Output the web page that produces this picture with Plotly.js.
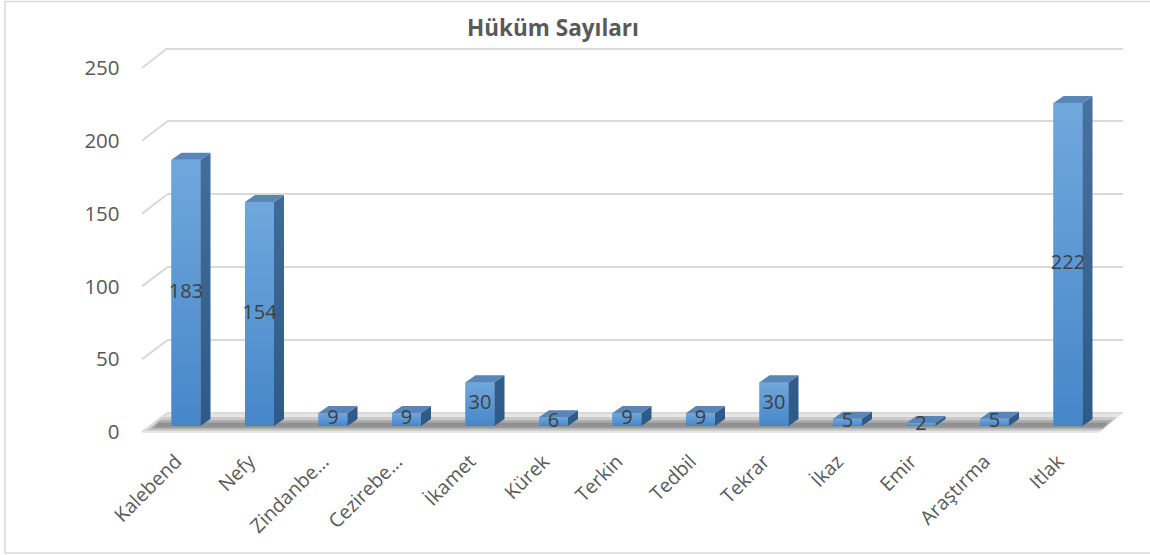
<!DOCTYPE html>
<html>
<head>
<meta charset="utf-8">
<script src="https://cdn.plot.ly/plotly-3.0.1.min.js"></script>
<style>
html,body{margin:0;padding:0;background:#fff;}
#chart{width:1150px;height:555px;}
</style>
</head>
<body>
<div id="chart"></div>
<script>
// ---- data ----
const categories = ["Kalebend","Nefy","Zindanbe…","Cezirebe…","İkamet","Kürek","Terkin","Tedbil","Tekrar","İkaz","Emir","Araştırma","Itlak"];
const values = [183,154,9,9,30,6,9,9,30,5,2,5,222];
const yTicks = [0,50,100,150,200,250];
const titleText = "Hüküm Sayıları";

// ---- geometry (pixels) ----
const W = 1150, H = 555;
const px = x => x / W;
const py = y => 1 - y / H;
const cat0 = 186, catStep = 73.5;         // bar subplot category scale
const base0 = 426, unitPx = 1.455;        // bar subplot value scale
const xR = [-0.7, 12.9], yR = [-5, 255];
const gridBottom = 413.3, gridTop = 48.5; // back wall gridlines (0 and 250)
const gridUnit = (gridBottom - gridTop) / 250;
const gR = [-1, 251];

const idx = categories.map((_, i) => i);
const hw = 0.1975, dX = 0.136, dY = 4.8;

// side & top faces of the 3D bars, derived from the values
const sideX = [], sideY = [], topX = [], topY = [];
values.forEach((v, i) => {
  sideX.push(i + hw, i + hw + dX, i + hw + dX, i + hw, i + hw, null);
  sideY.push(0, dY, v + dY, v, 0, null);
  topX.push(i - hw, i - hw + dX, i + hw + dX, i + hw, i - hw, null);
  topY.push(v, v + dY, v + dY, v, v, null);
});

const font = "'Open Sans', 'Noto Sans', sans-serif";

const traces = [
  { // invisible trace to create the back-wall grid subplot
    type: 'scatter', x: [0, 1], y: [0, 250], mode: 'markers',
    marker: {opacity: 0}, xaxis: 'x', yaxis: 'y', hoverinfo: 'skip', showlegend: false
  },
  {
    type: 'bar', x: idx, y: values, width: 2 * hw,
    marker: {color: '#5697d5', line: {width: 0}},
    xaxis: 'x2', yaxis: 'y2', hoverinfo: 'x+y', showlegend: false
  }
];
// gradient shading of each front face (same rectangle as the bar)
values.forEach((v, i) => {
  traces.push({
    type: 'scatter', x: [i - hw, i + hw, i + hw, i - hw, i - hw], y: [0, 0, v, v, 0],
    mode: 'lines', fill: 'toself', line: {width: 0, color: 'rgba(0,0,0,0)'},
    fillgradient: {type: 'vertical', start: 0, stop: Math.max(v, 1),
      colorscale: [[0, '#4686c9'], [1, '#70a8dd']]},
    xaxis: 'x2', yaxis: 'y2', hoverinfo: 'skip', showlegend: false
  });
});
traces.push({
  type: 'scatter', x: sideX, y: sideY, mode: 'lines', fill: 'toself',
  fillgradient: {type: 'vertical', start: 0, stop: 230,
    colorscale: [[0, '#2e5a88'], [1, '#48729f']]},
  line: {width: 0, color: 'rgba(0,0,0,0)'},
  xaxis: 'x2', yaxis: 'y2', hoverinfo: 'skip', showlegend: false
});
traces.push({
  type: 'scatter', x: topX, y: topY, mode: 'lines', fill: 'toself',
  fillcolor: '#5a86b7', line: {width: 0, color: 'rgba(0,0,0,0)'},
  xaxis: 'x2', yaxis: 'y2', hoverinfo: 'skip', showlegend: false
});
traces.push({
  type: 'scatter', x: idx, y: values.map(v => v / 2), mode: 'text',
  text: values.map(String), textposition: 'middle center',
  textfont: {family: font, size: 20, color: '#404040'},
  xaxis: 'x2', yaxis: 'y2', hoverinfo: 'skip', showlegend: false, cliponaxis: false
});

const shapes = [];
// chart border
shapes.push({type: 'rect', xref: 'paper', yref: 'paper',
  x0: px(5), x1: px(1170), y0: py(553), y1: py(1.5),
  line: {color: '#d9d9d9', width: 1.5}, layer: 'below'});
// floor slab
shapes.push({type: 'path', xref: 'paper', yref: 'paper', layer: 'below',
  path: `M${px(142)},${py(433)} L${px(166)},${py(413)} L${px(1123)},${py(413)} L${px(1098)},${py(433)} Z`,
  fillcolor: '#e6e6e6', line: {width: 0}});
// floor shadow (soft, layered)
shapes.push({type: 'path', xref: 'paper', yref: 'paper', layer: 'below',
  path: `M${px(146)},${py(431)} L${px(162)},${py(417)} L${px(1117)},${py(417)} L${px(1101)},${py(431)} Z`,
  fillcolor: 'rgba(120,120,120,0.25)', line: {width: 0}});
shapes.push({type: 'path', xref: 'paper', yref: 'paper', layer: 'below',
  path: `M${px(150)},${py(429)} L${px(160)},${py(420)} L${px(1113)},${py(420)} L${px(1103)},${py(429)} Z`,
  fillcolor: 'rgba(90,90,90,0.25)', line: {width: 0}});
shapes.push({type: 'path', xref: 'paper', yref: 'paper', layer: 'below',
  path: `M${px(154)},${py(427.5)} L${px(159)},${py(422.5)} L${px(1108)},${py(422.5)} L${px(1103)},${py(427.5)} Z`,
  fillcolor: 'rgba(60,60,60,0.25)', line: {width: 0}});
// diagonal connectors from front axis to back wall gridlines
yTicks.forEach(v => {
  shapes.push({type: 'line', xref: 'paper', yref: 'paper', layer: 'below',
    x0: px(142), y0: py(432 - v * 1.456), x1: px(167), y1: py(gridBottom - v * gridUnit),
    line: {color: '#d9d9d9', width: 2}});
});

const layout = {
  width: W, height: H,
  margin: {l: 0, r: 0, t: 0, b: 0},
  paper_bgcolor: '#ffffff', plot_bgcolor: 'rgba(0,0,0,0)',
  showlegend: false,
  title: {text: titleText, x: 553 / W, xanchor: 'center', y: 1 - 28 / H, yanchor: 'middle',
    font: {family: font, size: 22.5, weight: 'bold', color: '#595959'}},
  xaxis: {domain: [px(167), px(1123)], range: [0, 1], visible: false, fixedrange: true},
  yaxis: {domain: [py(gridBottom + 1 * gridUnit), py(gridTop - 1 * gridUnit)], range: gR,
    tickvals: yTicks, showgrid: true, gridcolor: '#d9d9d9', gridwidth: 2,
    showticklabels: false, zeroline: false, showline: false, ticks: '', fixedrange: true},
  xaxis2: {domain: [px(cat0 + xR[0] * catStep), px(cat0 + xR[1] * catStep)], range: xR, anchor: 'y2',
    tickvals: idx, ticktext: categories, tickangle: -45, showgrid: false, zeroline: false,
    showline: false, ticks: '', ticklabelstandoff: 12, ticklabelshift: -10,
    tickfont: {family: font, size: 19.5, color: '#595959'}, fixedrange: true},
  yaxis2: {domain: [py(base0 - yR[0] * unitPx), py(base0 - yR[1] * unitPx)], range: yR, anchor: 'x2',
    tickvals: yTicks, showgrid: false, zeroline: false, showline: false, ticks: '',
    ticklabelshift: 6, ticklabelstandoff: 14,
    tickfont: {family: font, size: 20.5, color: '#595959'}, fixedrange: true},
  shapes: shapes
};

Plotly.newPlot('chart', traces, layout, {displayModeBar: false, staticPlot: true});
</script>
</body>
</html>
